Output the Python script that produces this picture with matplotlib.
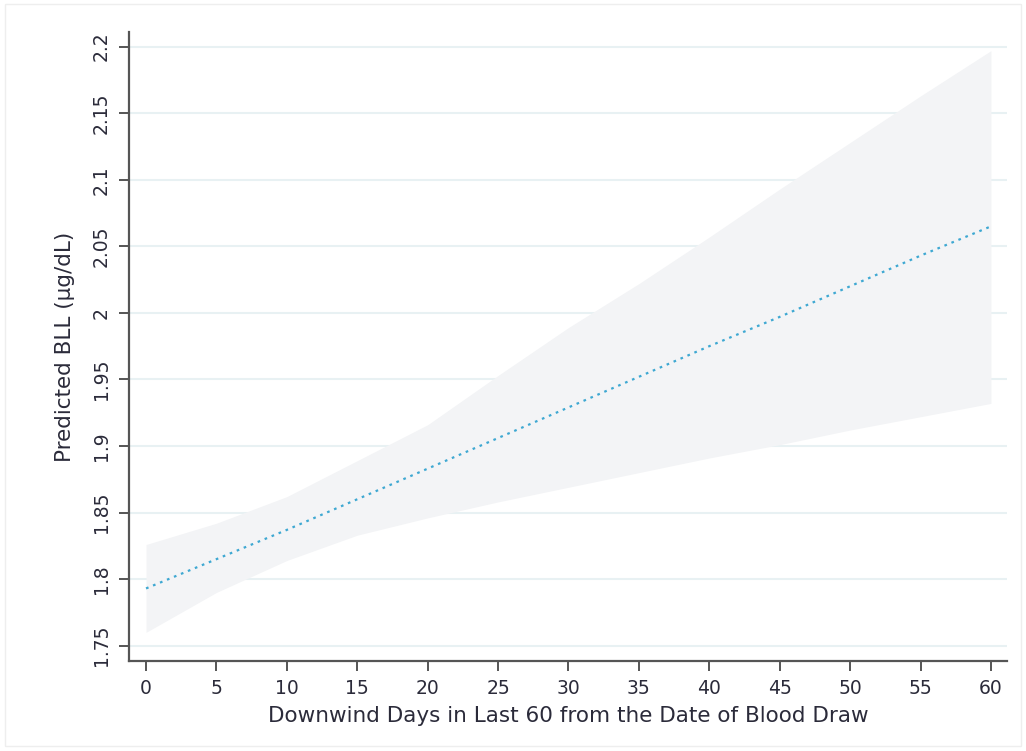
import matplotlib
matplotlib.use("Agg")
import matplotlib.pyplot as plt
from matplotlib.patches import Rectangle

days = [0, 5, 10, 15, 20, 25, 30, 35, 40, 45, 50, 55, 60]
predicted = [1.793, 1.815, 1.837, 1.860, 1.883, 1.906, 1.929, 1.952, 1.975, 1.997, 2.020, 2.043, 2.065]
upper = [1.826, 1.842, 1.862, 1.889, 1.916, 1.953, 1.989, 2.022, 2.057, 2.093, 2.128, 2.163, 2.197]
lower = [1.760, 1.790, 1.814, 1.833, 1.846, 1.858, 1.869, 1.880, 1.891, 1.901, 1.912, 1.922, 1.932]
yticks = [1.75, 1.8, 1.85, 1.9, 1.95, 2.0, 2.05, 2.1, 2.15, 2.2]
ytick_labels = ["1.75", "1.8", "1.85", "1.9", "1.95", "2", "2.05", "2.1", "2.15", "2.2"]
xticks = list(range(0, 61, 5))

plt.rcParams['font.family'] = ['DejaVu Sans']
text_color = "#2b2b3a"

fig = plt.figure(figsize=(10.26, 7.51), dpi=100)
fig.patches.append(Rectangle((5/1026, 5/751), 1016/1026, 742/751, transform=fig.transFigure,
                             fill=False, edgecolor="#eeeeee", linewidth=1.0))
ax = fig.add_axes([129/1026, 1 - 661/751, (1007 - 129)/1026, (661 - 32)/751])

ax.set_xlim(-1.21, 61.14)
ax.set_ylim(1.7385, 2.211)

for yv in yticks:
    ax.axhline(yv, color="#e8f1f3", linewidth=1.5, zorder=0)

ax.fill_between(days, lower, upper, color="#f3f4f6", linewidth=0, zorder=1)
ax.plot(days, predicted, color="#3ea8d2", linestyle=(0, (1.2, 2.2)), linewidth=1.6, zorder=2)

ax.set_xticks(xticks)
ax.set_xticklabels([str(v) for v in xticks])
ax.set_yticks(yticks)
ax.set_yticklabels(ytick_labels, rotation=90, va="center")

for s in ["top", "right"]:
    ax.spines[s].set_visible(False)
for s in ["left", "bottom"]:
    ax.spines[s].set_color("#555555")
    ax.spines[s].set_linewidth(1.6)

ax.tick_params(axis="both", direction="out", length=7, width=1.4, color="#555555",
               labelcolor=text_color, labelsize=13.5, pad=6)

ax.set_xlabel("Downwind Days in Last 60 from the Date of Blood Draw", fontsize=15.5,
              color=text_color, labelpad=6)
ax.set_ylabel("Predicted BLL (µg/dL)", fontsize=15.5, color=text_color, labelpad=12)

fig.savefig("out.png", dpi=100, facecolor="white")
